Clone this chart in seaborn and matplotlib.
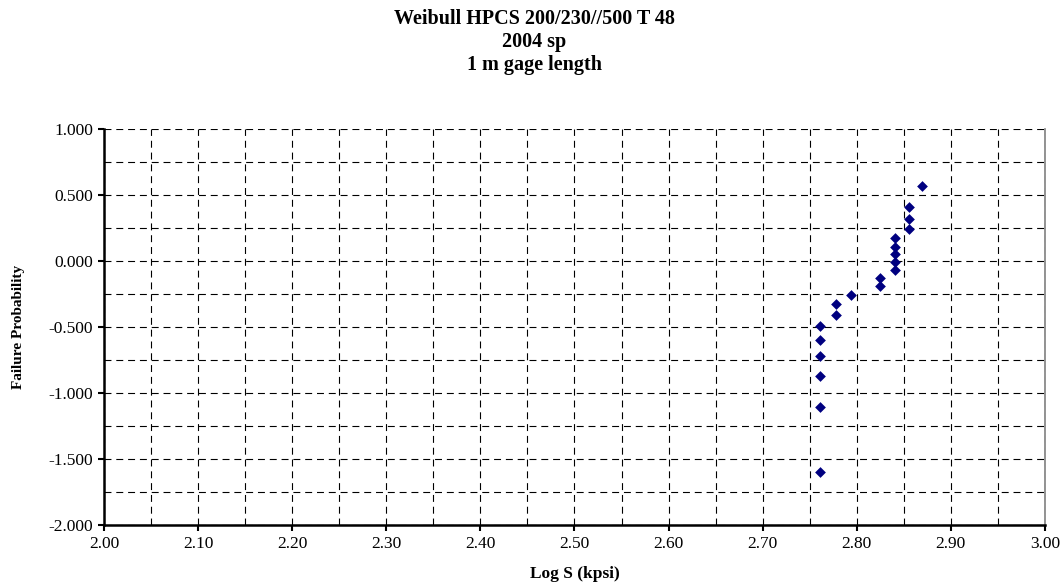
import numpy as np
import pandas as pd
import matplotlib
matplotlib.use("Agg")
import matplotlib.pyplot as plt
from matplotlib.ticker import MultipleLocator, FormatStrFormatter
import seaborn as sns

# values
log_s = [2.761, 2.761, 2.761, 2.761, 2.761, 2.761,
         2.778, 2.778, 2.794, 2.825, 2.825,
         2.841, 2.841, 2.841, 2.841, 2.841,
         2.855, 2.855, 2.855, 2.869]
failure_prob = [-1.597, -1.108, -0.874, -0.716, -0.594, -0.493,
                -0.406, -0.328, -0.257, -0.191, -0.128,
                -0.068, -0.008, 0.051, 0.111, 0.174,
                0.241, 0.318, 0.413, 0.567]

title_lines = ["Weibull HPCS 200/230//500 T 48", "2004 sp", "1 m gage length"]
x_label = "Log S (kpsi)"
y_label = "Failure Probability"

df = pd.DataFrame({"log_s": log_s, "fp": failure_prob})

sns.set_style("white")
plt.rcParams["font.family"] = ["Liberation Serif", "DejaVu Serif"]
plt.rcParams["lines.scale_dashes"] = False
plt.rcParams["text.color"] = "black"
plt.rcParams["axes.labelcolor"] = "black"
plt.rcParams["xtick.color"] = "black"
plt.rcParams["ytick.color"] = "black"

fig = plt.figure(figsize=(10.64, 5.83), dpi=100)
ax = fig.add_axes([0.0977, 0.0995, 0.8844, 0.6787])

sns.scatterplot(data=df, x="log_s", y="fp", ax=ax, marker="D", s=30,
                color="#000080", edgecolor="#000080", linewidth=0, zorder=3)

ax.set_xlim(2.0, 3.0)
ax.set_ylim(-2.0, 1.0)
ax.xaxis.set_major_locator(MultipleLocator(0.1))
ax.xaxis.set_minor_locator(MultipleLocator(0.05))
ax.yaxis.set_major_locator(MultipleLocator(0.5))
ax.yaxis.set_minor_locator(MultipleLocator(0.25))
ax.xaxis.set_major_formatter(FormatStrFormatter("%.2f"))
ax.yaxis.set_major_formatter(FormatStrFormatter("%.3f"))

ax.grid(True, which="both", color="black", linestyle=(0, (5, 3.5)), linewidth=0.8)
ax.set_axisbelow(True)

ax.tick_params(axis="both", which="major", direction="out", length=4, width=1.5,
               color="black", labelcolor="black", labelsize=12.5, pad=4)
ax.tick_params(axis="both", which="minor", length=0)
ax.tick_params(axis="x", bottom=True)
ax.tick_params(axis="y", left=True)

for side in ["left", "bottom"]:
    ax.spines[side].set_color("black")
    ax.spines[side].set_linewidth(1.8)
ax.spines["right"].set_color("#808080")
ax.spines["right"].set_linewidth(1.2)
ax.spines["top"].set_visible(False)

ax.set_xlabel(x_label, fontsize=12.5, fontweight="bold", labelpad=10, color="black")
ax.set_ylabel(y_label, fontsize=11, fontweight="bold", labelpad=17, color="black")

fig.text(0.502, 0.985, "\n".join(title_lines), ha="center", va="top",
         fontsize=14.5, fontweight="bold", linespacing=1.22, color="black")

fig.savefig("out.png", dpi=100)
